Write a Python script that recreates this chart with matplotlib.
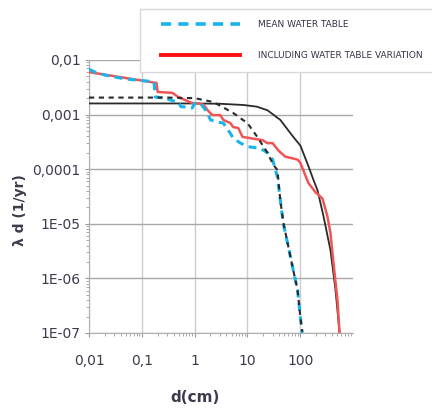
import numpy as np
import matplotlib
matplotlib.use('Agg')
import matplotlib.pyplot as plt
from matplotlib.lines import Line2D
from matplotlib.patches import Rectangle

plt.rcParams['font.family'] = ['Liberation Sans Narrow', 'DejaVu Sans']

# mean water table, stepped curve (blue dashed)
mean_d = [0.01, 0.013, 0.02, 0.048, 0.17, 0.18, 0.28, 0.38, 0.49, 0.55, 0.66, 0.9, 1.0, 1.3,
          1.46, 1.74, 2.0, 2.7, 3.5, 4.7, 5.4, 7.4, 10, 17.7, 24, 30, 37, 42, 48, 60, 74, 89, 101, 108]
mean_l = [0.0068, 0.006, 0.0053, 0.0045, 0.0040, 0.0021, 0.0020, 0.0018, 0.0017, 0.0014, 0.00138,
          0.00132, 0.0016, 0.0016, 0.00138, 0.00107, 0.0008, 0.00073, 0.0007, 0.00046, 0.00037,
          0.0003, 0.00026, 0.00024, 0.0002, 0.00015, 7.2e-5, 2.7e-5, 1.0e-5, 3.7e-6, 1.4e-6,
          6.2e-7, 1.9e-7, 1.0e-7]

# including water table variation (red)
var_d = [0.01, 0.19, 0.2, 0.38, 0.49, 0.66, 0.9, 1.17, 1.5, 1.74, 2.16, 3.06, 3.5, 4.74, 5.4, 6.7,
         8.1, 11.4, 19.4, 24, 30, 38.6, 52, 89, 101, 114, 143, 194, 264, 328, 374, 427, 508, 555]
var_l = [0.006, 0.0038, 0.0026, 0.0025, 0.0021, 0.00185, 0.00163, 0.0016, 0.0015, 0.00122,
         0.00098, 0.00098, 0.0008, 0.0007, 0.00059, 0.00057, 0.00039, 0.00037, 0.00034, 0.0003,
         0.0003, 0.00022, 0.00017, 0.00015, 0.00013, 9.7e-5, 5.6e-5, 3.8e-5, 2.9e-5, 1.36e-5,
         6.8e-6, 1.9e-6, 4.0e-7, 1.05e-7]

# fitted curves (black)
fit_mean_d = [0.01, 0.3, 1, 1.7, 2.26, 3.5, 5.4, 7.5, 10, 15.4, 24, 31, 37, 42, 48, 60, 74, 89, 101, 110]
fit_mean_l = [0.00205, 0.00205, 0.002, 0.0018, 0.0017, 0.00135, 0.00107, 0.00085, 0.0007, 0.00039,
              0.0002, 0.00012, 9.7e-5, 2.7e-5, 1.05e-5, 3.7e-6, 1.4e-6, 6.2e-7, 1.9e-7, 1.05e-7]

fit_var_d = [0.01, 1, 3, 8.4, 15, 24, 42, 74, 101, 145, 179, 213, 277, 374, 466, 555]
fit_var_l = [0.0016, 0.0016, 0.00158, 0.0015, 0.0014, 0.0012, 0.0008, 0.00039, 0.00027, 1.1e-4,
             6.3e-5, 4.1e-5, 1.36e-5, 3.3e-6, 6.2e-7, 1.05e-7]

xticks = [0.01, 0.1, 1, 10, 100]
xticklabels = ['0,01', '0,1', '1', '10', '100']
yticks = [1e-7, 1e-6, 1e-5, 1e-4, 1e-3, 1e-2]
yticklabels = ['1E-07', '1E-06', '1E-05', '0,0001', '0,001', '0,01']

txt = '#3c3c4c'
fig = plt.figure(figsize=(4.32, 4.09), dpi=100)
ax = fig.add_axes([89/432, 1-333/409, 264/432, 273/409])

ax.plot(fit_var_d, fit_var_l, color='#2a2a2a', lw=1.3, zorder=3)
ax.plot(var_d, var_l, color='#f05555', lw=1.8, zorder=4)
ax.plot(mean_d, mean_l, color='#1ab4ea', lw=2.2, dashes=(2.6, 1.8), zorder=5)
ax.plot(fit_mean_d, fit_mean_l, color='#2a2a2a', lw=1.5, dashes=(2.5, 2.2), zorder=6)

ax.set_xscale('log')
ax.set_yscale('log')
ax.set_xlim(0.01, 1000)
ax.set_ylim(1e-7, 1e-2)
ax.set_xticks(xticks)
ax.set_xticklabels(xticklabels)
ax.set_yticks(yticks)
ax.set_yticklabels(yticklabels)
ax.tick_params(axis='both', which='major', labelsize=10, labelcolor=txt, color='#999999', length=3, direction='out')
ax.tick_params(axis='both', which='minor', color='#999999', length=2.5, direction='out')
ax.tick_params(axis='x', which='major', pad=12)
ax.tick_params(axis='y', which='major', pad=3)
ax.grid(axis='y', which='major', color='#a8a8a8', lw=1.0)
ax.grid(axis='x', which='major', color='#cccccc', lw=1.0)
for s in ['top', 'right']:
    ax.spines[s].set_visible(False)
for s in ['left', 'bottom']:
    ax.spines[s].set_color('#b0b0b0')

fig.text(195/432, 1-398/409, 'd(cm)', fontsize=11, fontweight='bold', color=txt, ha='center', va='center')
fig.text(20/432, 1-210/409, 'λ d (1/yr)', fontsize=10, fontweight='bold', color=txt,
         ha='center', va='center', rotation=90)

# legend box overlapping the top of the plot
box = Rectangle((140/432, 1-72/409), 300/432, 63/409, transform=fig.transFigure,
                facecolor='white', edgecolor='#d8d8d8', lw=1.0, zorder=4)
fig.patches.append(box)

handles = [Line2D([], [], color='#1ab4ea', lw=2.6, dashes=(2.8, 2.0)),
           Line2D([], [], color='#ff1010', lw=2.8)]
labels = ['MEAN WATER TABLE', 'INCLUDING WATER TABLE VARIATION']
leg = fig.legend(handles, labels, loc='upper left', bbox_to_anchor=(152/432, 1-11/409),
                 borderaxespad=0, fontsize=6.5, handlelength=8.7, handletextpad=2.0,
                 labelspacing=2.4, borderpad=1.0, frameon=False)
leg.set_zorder(5)
for t in leg.get_texts():
    t.set_color('#333344')

fig.savefig('out.png', dpi=100)
